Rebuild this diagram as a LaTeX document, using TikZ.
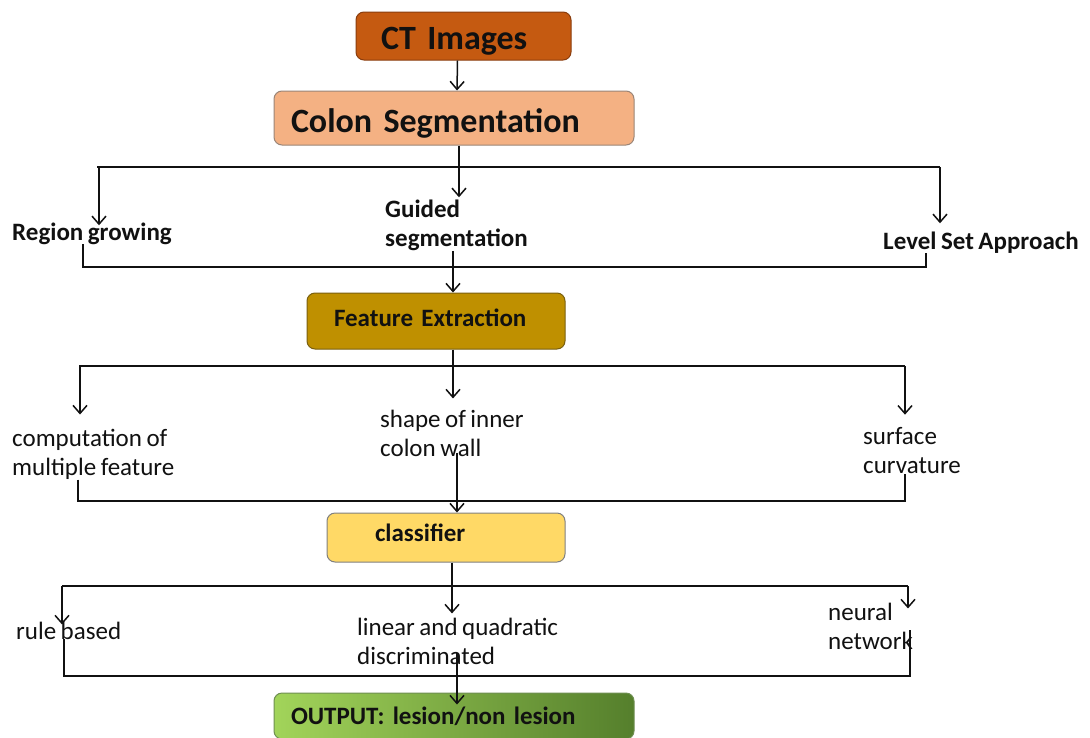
\documentclass[tikz,border=0pt]{standalone}
\usepackage{fontspec}
\setmainfont{Carlito}[WordSpace=0.8]
\usetikzlibrary{arrows.meta}

\definecolor{ctfill}{HTML}{C55A11}
\definecolor{ctline}{HTML}{8A3D0E}
\definecolor{segfill}{HTML}{F4B183}
\definecolor{segline}{HTML}{9A8577}
\definecolor{fefill}{HTML}{BF9000}
\definecolor{feline}{HTML}{7A6010}
\definecolor{clsfill}{HTML}{FFD966}
\definecolor{clsline}{HTML}{808080}
\definecolor{outleft}{HTML}{A2D45A}
\definecolor{outmid}{HTML}{86BA40}
\definecolor{outright}{HTML}{557F2C}
\definecolor{outline}{HTML}{6F8F52}
\definecolor{ink}{HTML}{111111}

\begin{document}
\begin{tikzpicture}[x=1pt,y=-1pt,
  link/.style={draw=ink, line width=1.5pt},
  arr/.style={link, -{Straight Barb[length=8pt,width=14pt]}},
  box/.style={rounded corners=8pt, line width=1pt, inner xsep=0pt, inner ysep=0pt,
              align=left, text=ink},
  bigtext/.style={font=\fontsize{34}{40}\selectfont\bfseries},
  boxtext/.style={font=\fontsize{25}{29.5}\selectfont\bfseries},
  lab/.style={anchor=base west, inner sep=0pt, align=left, text=ink,
              font=\fontsize{25}{29.5}\selectfont},
  blab/.style={lab, font=\fontsize{25}{29.5}\selectfont\bfseries}]

\fill[white] (0,0) rectangle (1090,737);
\useasboundingbox (0,0) rectangle (1090,737);

% main process boxes
\node[box, bigtext, fill=ctfill, draw=ctline, text width=215pt, minimum height=48pt,
      text height=26pt, text depth=0pt]
  (ct) at (463.5,36) {\hspace*{25pt}CT Images};
\node[box, bigtext, fill=segfill, draw=segline, text width=360pt, minimum height=54pt,
      text height=28pt, text depth=0pt]
  (seg) at (454,118) {\hspace*{17pt}Colon Segmentation};
\node[box, boxtext, fill=fefill, draw=feline, text width=258pt, minimum height=56pt,
      text height=16pt, text depth=6pt]
  (fe) at (436,321) {\hspace*{27pt}Feature Extraction};
\node[box, boxtext, fill=clsfill, draw=clsline, text width=238pt, minimum height=49pt,
      text height=16pt, text depth=8pt]
  (cls) at (446,537.5) {\hspace*{48pt}classifier};
\node[box, boxtext, left color=outleft, middle color=outmid, right color=outright,
      draw=outline, text width=360pt, minimum height=46pt]
  (out) at (454,716) {\hspace*{17pt}OUTPUT: lesion/non lesion};

% segmentation methods
\node[blab] (region) at (12,240) {Region growing};
\node[blab] (guided) at (385,246.5) {Guided\\segmentation};
\node[blab] (level) at (883,249) {Level Set Approach};

% features
\node[lab] (comp) at (12,475.5) {computation of\\multiple feature};
\node[lab] (shape) at (380,456.5) {shape of inner\\colon wall};
\node[lab] (surf) at (863,473.5) {surface\\curvature};

% classifiers
\node[lab] (rule) at (16,639) {rule based};
\node[lab] (lin) at (357,664.5) {linear and quadratic\\discriminated};
\node[lab] (neur) at (828,649.5) {neural\\network};

% bus lines
\coordinate (s1w) at (97,167);   \coordinate (s1e) at (940,167);
\coordinate (j1w) at (83,267);   \coordinate (j1e) at (926,267);
\coordinate (s2w) at (79,366);   \coordinate (s2e) at (905,366);
\coordinate (j2w) at (78,501);   \coordinate (j2e) at (905,501);
\coordinate (s3w) at (62,586);   \coordinate (s3e) at (908,586);
\coordinate (j3w) at (64,676);   \coordinate (j3e) at (910,676);

% CT -> segmentation
\draw[arr] ([xshift=-6pt]ct.south) -- ([xshift=3pt]seg.north);

% segmentation split
\draw[link] (s1w) -- (s1e);
\draw[arr, shorten >=2pt] ([xshift=5pt]seg.south) -- ([xshift=5pt]seg.south |- guided.north);
\draw[arr, shorten >=-3pt] ([xshift=2pt]s1w) -- ([xshift=2pt]s1w |- region.north);
\draw[arr, shorten >=8pt] (s1e) -- (s1e |- level.north);

% segmentation join
\draw[link] (j1w |- region.south) -- (j1w) -- (j1e) -- (j1e |- level.south);
\draw[arr] (guided.south -| 453,0) -- (fe.north -| 453,0);

% feature split
\draw[link] (s2w) -- (s2e);
\draw[arr, shorten >=11pt] (fe.south -| 453,0) -- (shape.north -| 453,0);
\draw[arr, shorten >=14pt] ([xshift=1pt]s2w) -- ([xshift=1pt]s2w |- comp.north);
\draw[arr, shorten >=12pt] (s2e) -- (s2e |- surf.north);

% feature join
\draw[link] (j2w |- comp.south) -- (j2w) -- (j2e) -- (j2e |- surf.south);
\draw[arr, shorten <=-4pt] (shape.south -| 457,0) -- (cls.north -| 457,0);

% classifier split
\draw[link] (s3w) -- (s3e);
\draw[arr, shorten >=4pt] (cls.south -| 452,0) -- (lin.north -| 452,0);
\draw[arr, shorten >=-3pt] (s3w) -- (s3w |- rule.north);
\draw[arr, shorten >=-6pt] (s3e) -- (s3e |- neur.north);

% classifier join
\draw[link] (j3w |- rule.south) -- (j3w) -- (j3e) -- ([yshift=20pt]j3e |- neur.south);
\draw[arr, shorten <=-12pt, shorten >=-12pt] (lin.south -| 457,0) -- (out.north -| 457,0);

\end{tikzpicture}
\end{document}
